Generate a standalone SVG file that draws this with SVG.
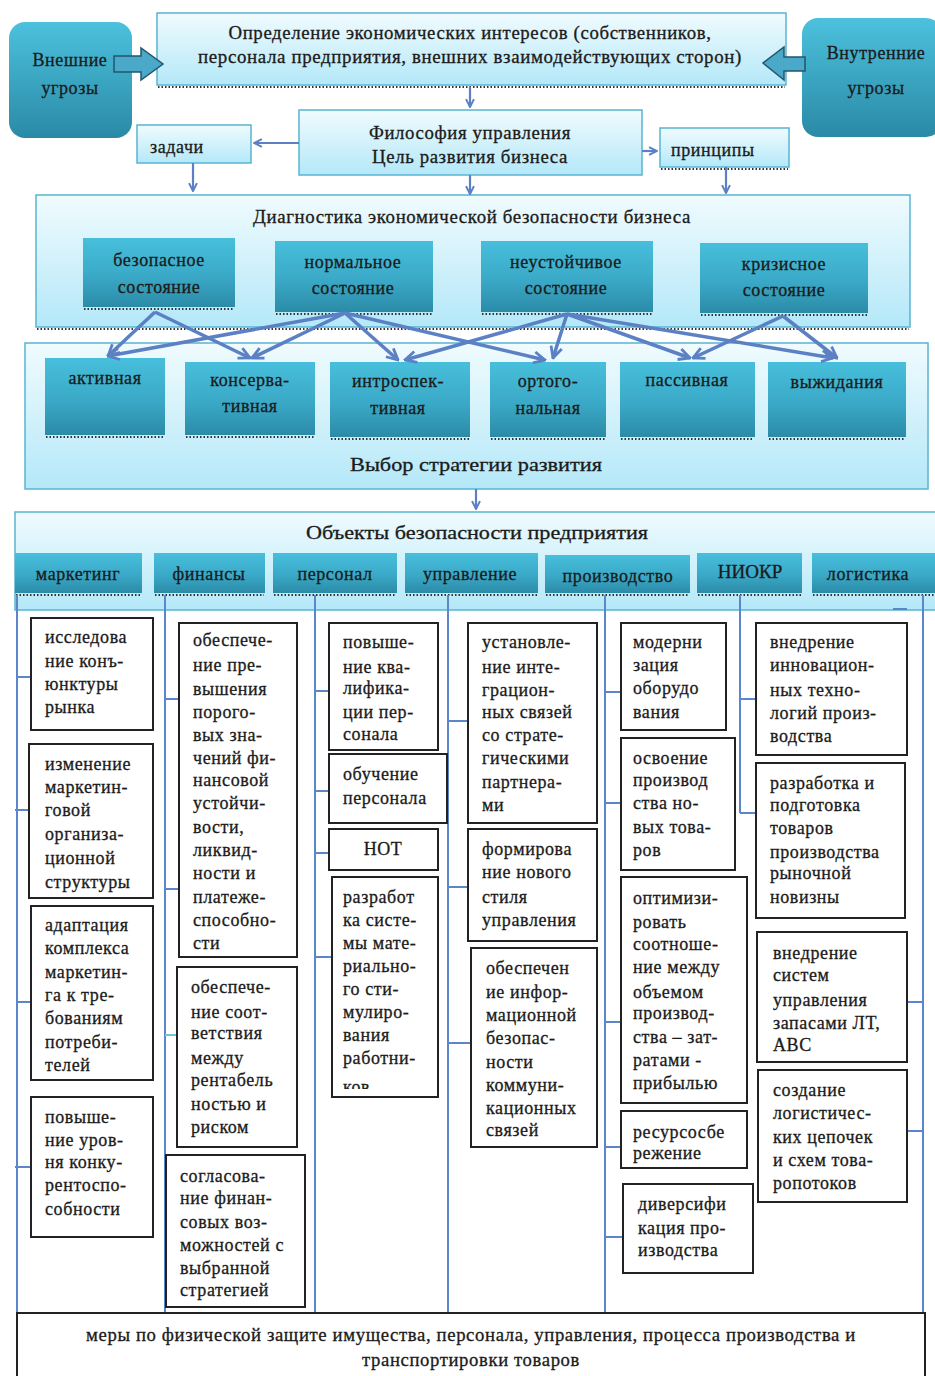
<svg xmlns="http://www.w3.org/2000/svg" width="935" height="1376" viewBox="0 0 935 1376">
<style>
.t{font-family:"Liberation Serif","Times New Roman",serif;font-size:18px;letter-spacing:0.6px;fill:#1b1b1b;stroke:#1b1b1b;stroke-width:0.3px}
.c{text-anchor:middle}
.h{font-size:19px;letter-spacing:0}
.box{fill:#fff;stroke:#222;stroke-width:2}
.teal{fill:url(#gTeal)}
.light{fill:url(#gLight);stroke:#5ab4d4;stroke-width:1.5}
.thr{fill:url(#gThr)}
.dot{stroke:#333;stroke-width:2;stroke-dasharray:1.5 2;fill:none}
.vl{stroke:#5b86c9;stroke-width:2;fill:none}
.arr{stroke:#5b80c3;stroke-width:2.2;fill:none;marker-end:url(#ah)}
.thick{stroke:#5b80c3;stroke-width:3.5;fill:none;marker-end:url(#ahT)}
.blk{fill:#4aa8c8;stroke:#23566e;stroke-width:1.5}
</style>
<defs>
<linearGradient id="gTeal" x1="0" y1="0" x2="0" y2="1"><stop offset="0" stop-color="#47bfdc"/><stop offset="0.55" stop-color="#3aa9c7"/><stop offset="1" stop-color="#2b8ba7"/></linearGradient>
<linearGradient id="gLight" x1="0" y1="0" x2="0" y2="1"><stop offset="0" stop-color="#f0fbfe"/><stop offset="1" stop-color="#b4e8f8"/></linearGradient>
<linearGradient id="gThr" x1="0" y1="0" x2="0" y2="1"><stop offset="0" stop-color="#4cc1dd"/><stop offset="1" stop-color="#2a8aa6"/></linearGradient>
<marker id="ah" viewBox="0 0 10 10" refX="9" refY="5" markerWidth="4.5" markerHeight="4.5" orient="auto" markerUnits="strokeWidth"><path d="M1,1 L9,5 L1,9" fill="none" stroke="#5b80c3" stroke-width="2"/></marker>
<marker id="ahT" viewBox="0 0 10 10" refX="9" refY="5" markerWidth="4" markerHeight="4" orient="auto" markerUnits="strokeWidth"><path d="M1,1 L9,5 L1,9" fill="none" stroke="#5b80c3" stroke-width="2"/></marker>
<clipPath id="cpK"><rect x="332" y="877" width="106" height="212"/></clipPath>
</defs>

<g id="top-main">
<rect class="light" x="157" y="13" width="629" height="72"/>
<line class="dot" x1="158" y1="87" x2="785" y2="87"/>
<text class="t c" x="470" y="39" textLength="483" lengthAdjust="spacingAndGlyphs">Определение экономических интересов (собственников,</text>
<text class="t c" x="470" y="63" textLength="544" lengthAdjust="spacingAndGlyphs">персонала предприятия, внешних взаимодействующих сторон)</text>
</g>
<g id="ext-threats">
<rect class="thr" x="9" y="22" width="123" height="116" rx="16"/>
<text class="t c" x="70" y="66">Внешние</text>
<text class="t c" x="70" y="94">угрозы</text>
</g>
<g id="int-threats">
<rect class="thr" x="802" y="18" width="140" height="119" rx="16"/>
<text class="t c" x="876" y="59">Внутренние</text>
<text class="t c" x="876" y="94">угрозы</text>
</g>
<g id="philosophy">
<rect class="light" x="299" y="110" width="343" height="65"/>
<text class="t c" x="470" y="139" textLength="202" lengthAdjust="spacingAndGlyphs">Философия управления</text>
<text class="t c" x="470" y="163" textLength="196" lengthAdjust="spacingAndGlyphs">Цель развития бизнеса</text>
</g>
<g id="tasks">
<rect class="light" x="137" y="125" width="114" height="38"/>
<text class="t" x="150" y="153">задачи</text>
</g>
<g id="principles">
<rect class="light" x="660" y="128" width="129" height="39"/>
<line class="dot" x1="661" y1="169" x2="788" y2="169"/>
<text class="t" x="671" y="156">принципы</text>
</g>

<g id="diagnostics">
<rect class="light" x="36" y="195" width="874" height="132"/>
<line class="dot" x1="37" y1="329" x2="909" y2="329"/>
<text class="t c" x="472" y="223" textLength="438" lengthAdjust="spacingAndGlyphs">Диагностика экономической безопасности бизнеса</text>
</g>
<g id="st-safe">
<rect class="teal" x="83" y="238" width="152" height="69"/>
<line class="dot" x1="84" y1="309" x2="234" y2="309"/>
<text class="t c" x="159" y="266">безопасное</text>
<text class="t c" x="159" y="293">состояние</text>
</g>
<g id="st-normal">
<rect class="teal" x="275" y="241" width="158" height="71"/>
<line class="dot" x1="276" y1="314" x2="432" y2="314"/>
<text class="t c" x="353" y="268">нормальное</text>
<text class="t c" x="353" y="294">состояние</text>
</g>
<g id="st-unstable">
<rect class="teal" x="481" y="241" width="172" height="71"/>
<line class="dot" x1="482" y1="314" x2="652" y2="314"/>
<text class="t c" x="566" y="268">неустойчивое</text>
<text class="t c" x="566" y="294">состояние</text>
</g>
<g id="st-crisis">
<rect class="teal" x="700" y="243" width="168" height="70"/>
<line class="dot" x1="701" y1="315" x2="867" y2="315"/>
<text class="t c" x="784" y="270">кризисное</text>
<text class="t c" x="784" y="296">состояние</text>
</g>

<g id="strategy">
<rect class="light" x="25" y="343" width="903" height="146"/>
<text class="t c h" x="476" y="471" textLength="252" lengthAdjust="spacingAndGlyphs">Выбор стратегии развития</text>
</g>
<g id="sg-active">
<rect class="teal" x="45" y="358" width="120" height="77"/>
<line class="dot" x1="46" y1="437" x2="164" y2="437"/>
<text class="t c" x="105" y="384">активная</text>
</g>
<g id="sg-conservative">
<rect class="teal" x="185" y="362" width="130" height="73"/>
<line class="dot" x1="186" y1="437" x2="314" y2="437"/>
<text class="t c" x="250" y="386">консерва-</text>
<text class="t c" x="250" y="412">тивная</text>
</g>
<g id="sg-introspective">
<rect class="teal" x="330" y="362" width="140" height="75"/>
<line class="dot" x1="331" y1="439" x2="469" y2="439"/>
<text class="t c" x="398" y="387">интроспек-</text>
<text class="t c" x="398" y="414">тивная</text>
</g>
<g id="sg-orthogonal">
<rect class="teal" x="490" y="362" width="116" height="75"/>
<line class="dot" x1="491" y1="439" x2="605" y2="439"/>
<text class="t c" x="548" y="387">ортого-</text>
<text class="t c" x="548" y="414">нальная</text>
</g>
<g id="sg-passive">
<rect class="teal" x="620" y="362" width="135" height="75"/>
<line class="dot" x1="621" y1="439" x2="754" y2="439"/>
<text class="t c" x="687" y="386">пассивная</text>
</g>
<g id="sg-waiting">
<rect class="teal" x="768" y="362" width="138" height="75"/>
<line class="dot" x1="769" y1="439" x2="905" y2="439"/>
<text class="t c" x="837" y="388">выжидания</text>
</g>

<g id="objects">
<rect class="light" x="15" y="512" width="925" height="98"/>
<text class="t c h" x="477" y="539" textLength="342" lengthAdjust="spacingAndGlyphs">Объекты безопасности предприятия</text>
</g>
<g id="tab-marketing"><rect class="teal" x="15" y="553" width="127" height="40"/><line class="dot" x1="16" y1="595" x2="141" y2="595"/><text class="t c" x="78" y="580">маркетинг</text></g>
<g id="tab-finance"><rect class="teal" x="154" y="553" width="111" height="40"/><line class="dot" x1="155" y1="595" x2="264" y2="595"/><text class="t c" x="209" y="580">финансы</text></g>
<g id="tab-personnel"><rect class="teal" x="273" y="553" width="124" height="40"/><line class="dot" x1="274" y1="595" x2="396" y2="595"/><text class="t c" x="335" y="580">персонал</text></g>
<g id="tab-management"><rect class="teal" x="405" y="553" width="133" height="40"/><line class="dot" x1="406" y1="595" x2="537" y2="595"/><text class="t c" x="470" y="580">управление</text></g>
<g id="tab-production"><rect class="teal" x="545" y="555" width="145" height="38"/><line class="dot" x1="546" y1="595" x2="689" y2="595"/><text class="t c" x="618" y="582">производство</text></g>
<g id="tab-niokr"><rect class="teal" x="697" y="553" width="105" height="40"/><line class="dot" x1="698" y1="595" x2="801" y2="595"/><text class="t c" x="750" y="578" style="font-size:19px;letter-spacing:0">НИОКР</text></g>
<g id="tab-logistics"><rect class="teal" x="812" y="553" width="128" height="40"/><line class="dot" x1="813" y1="595" x2="935" y2="595"/><text class="t c" x="868" y="580">логистика</text></g>

<g id="connectors">
<path class="blk" d="M114,56 L141,56 L141,48 L163,64 L141,80 L141,72 L114,72 Z"/>
<path class="blk" d="M805,57 L784,57 L784,47 L763,63 L784,80 L784,71 L805,71 Z"/>
<line class="arr" x1="470" y1="87" x2="470" y2="107"/>
<line class="arr" x1="299" y1="143" x2="254" y2="143"/>
<line class="arr" x1="642" y1="151" x2="657" y2="151"/>
<line class="arr" x1="193" y1="163" x2="193" y2="191"/>
<line class="arr" x1="470" y1="175" x2="470" y2="194"/>
<line class="arr" x1="726" y1="167" x2="726" y2="193"/>
<line class="arr" x1="476" y1="489" x2="476" y2="509"/>
<line class="thick" x1="155" y1="312" x2="108" y2="356"/>
<line class="thick" x1="155" y1="312" x2="250" y2="358"/>
<line class="thick" x1="345" y1="313" x2="108" y2="356"/>
<line class="thick" x1="345" y1="313" x2="252" y2="358"/>
<line class="thick" x1="345" y1="313" x2="398" y2="360"/>
<line class="thick" x1="345" y1="313" x2="545" y2="360"/>
<line class="thick" x1="567" y1="314" x2="405" y2="360"/>
<line class="thick" x1="567" y1="314" x2="553" y2="358"/>
<line class="thick" x1="567" y1="314" x2="690" y2="358"/>
<line class="thick" x1="567" y1="314" x2="833" y2="358"/>
<line class="thick" x1="783" y1="316" x2="693" y2="358"/>
<line class="thick" x1="783" y1="316" x2="837" y2="358"/>
<path class="vl" d="M17,595 V1313 M17,677 H31 M15,810 H29 M17,1002 H31 M15,1167 H31"/>
<path class="vl" d="M165,595 V1313 M165,699 H179 M165,889 H179"/>
<path d="M165,1035 H177" stroke="#6cc6dc" stroke-width="2"/>
<path class="vl" d="M315,595 V1313 M315,691 H329 M315,791 H329 M315,853 H329 M315,957 H332"/>
<path class="vl" d="M448,595 V1313 M448,721 H468 M448,887 H468 M448,1043 H471"/>
<path class="vl" d="M605,595 V1313 M605,692 H621 M605,803 H621 M605,1022 H621 M605,1147 H621 M605,1237 H623"/>
<path class="vl" d="M740,595 V813 M740,699 H756 M740,813 H756"/>
<path class="vl" d="M923,595 V1313 M907,1002 H923 M907,1131 H923 M893,609 H907"/>
</g>

<g id="m1"><rect class="box" x="31" y="618" width="122" height="112"/><text class="t"><tspan x="45" y="643">исследова</tspan><tspan x="45" y="667">ние конъ-</tspan><tspan x="45" y="690">юнктуры</tspan><tspan x="45" y="713">рынка</tspan></text></g>
<g id="m2"><rect class="box" x="29" y="744" width="124" height="154"/><text class="t"><tspan x="45" y="770">изменение</tspan><tspan x="45" y="793">маркетин-</tspan><tspan x="45" y="816">говой</tspan><tspan x="45" y="840">организа-</tspan><tspan x="45" y="864">ционной</tspan><tspan x="45" y="888">структуры</tspan></text></g>
<g id="m3"><rect class="box" x="31" y="906" width="122" height="174"/><text class="t"><tspan x="45" y="931">адаптация</tspan><tspan x="45" y="954">комплекса</tspan><tspan x="45" y="978">маркетин-</tspan><tspan x="45" y="1001">га к тре-</tspan><tspan x="45" y="1024">бованиям</tspan><tspan x="45" y="1048">потреби-</tspan><tspan x="45" y="1071">телей</tspan></text></g>
<g id="m4"><rect class="box" x="31" y="1097" width="122" height="140"/><text class="t"><tspan x="45" y="1123">повыше-</tspan><tspan x="45" y="1146">ние уров-</tspan><tspan x="45" y="1168">ня конку-</tspan><tspan x="45" y="1191">рентоспо-</tspan><tspan x="45" y="1215">собности</tspan></text></g>

<g id="f1"><rect class="box" x="179" y="623" width="118" height="334"/><text class="t"><tspan x="193" y="646">обеспече-</tspan><tspan x="193" y="671">ние пре-</tspan><tspan x="193" y="695">вышения</tspan><tspan x="193" y="718">порого-</tspan><tspan x="193" y="741">вых зна-</tspan><tspan x="193" y="764">чений фи-</tspan><tspan x="193" y="786">нансовой</tspan><tspan x="193" y="809">устойчи-</tspan><tspan x="193" y="833">вости,</tspan><tspan x="193" y="856">ликвид-</tspan><tspan x="193" y="879">ности и</tspan><tspan x="193" y="903">платеже-</tspan><tspan x="193" y="926">способно-</tspan><tspan x="193" y="949">сти</tspan></text></g>
<g id="f2"><rect class="box" x="177" y="967" width="120" height="180"/><text class="t"><tspan x="191" y="993">обеспече-</tspan><tspan x="191" y="1018">ние соот-</tspan><tspan x="191" y="1039">ветствия</tspan><tspan x="191" y="1064">между</tspan><tspan x="191" y="1086">рентабель</tspan><tspan x="191" y="1110">ностью и</tspan><tspan x="191" y="1133">риском</tspan></text></g>
<g id="f3"><rect class="box" x="166" y="1155" width="139" height="152"/><text class="t"><tspan x="180" y="1182">согласова-</tspan><tspan x="180" y="1204">ние финан-</tspan><tspan x="180" y="1228">совых воз-</tspan><tspan x="180" y="1251">можностей с</tspan><tspan x="180" y="1274">выбранной</tspan><tspan x="180" y="1296">стратегией</tspan></text></g>

<g id="p1"><rect class="box" x="329" y="623" width="109" height="127"/><text class="t"><tspan x="343" y="648">повыше-</tspan><tspan x="343" y="673">ние ква-</tspan><tspan x="343" y="694">лифика-</tspan><tspan x="343" y="718">ции пер-</tspan><tspan x="343" y="740">сонала</tspan></text></g>
<g id="p2"><rect class="box" x="329" y="754" width="118" height="69"/><text class="t"><tspan x="343" y="780">обучение</tspan><tspan x="343" y="804">персонала</tspan></text></g>
<g id="p3"><rect class="box" x="329" y="829" width="109" height="41"/><text class="t c" x="383" y="855" style="font-size:18px;letter-spacing:0.5px">НОТ</text></g>
<g id="p4"><rect class="box" x="332" y="877" width="106" height="220"/><text class="t" clip-path="url(#cpK)"><tspan x="343" y="903">разработ</tspan><tspan x="343" y="926">ка систе-</tspan><tspan x="343" y="949">мы мате-</tspan><tspan x="343" y="972">риально-</tspan><tspan x="343" y="995">го сти-</tspan><tspan x="343" y="1018">мулиро-</tspan><tspan x="343" y="1041">вания</tspan><tspan x="343" y="1064">работни-</tspan><tspan x="343" y="1093">ков</tspan></text></g>

<g id="u1"><rect class="box" x="468" y="623" width="129" height="200"/><text class="t"><tspan x="482" y="648">установле-</tspan><tspan x="482" y="673">ние инте-</tspan><tspan x="482" y="696">грацион-</tspan><tspan x="482" y="718">ных связей</tspan><tspan x="482" y="741">со страте-</tspan><tspan x="482" y="764">гическими</tspan><tspan x="482" y="788">партнера-</tspan><tspan x="482" y="811">ми</tspan></text></g>
<g id="u2"><rect class="box" x="468" y="829" width="129" height="112"/><text class="t"><tspan x="482" y="855">формирова</tspan><tspan x="482" y="878">ние нового</tspan><tspan x="482" y="903">стиля</tspan><tspan x="482" y="926">управления</tspan></text></g>
<g id="u3"><rect class="box" x="471" y="948" width="126" height="199"/><text class="t"><tspan x="486" y="974">обеспечен</tspan><tspan x="486" y="998">ие инфор-</tspan><tspan x="486" y="1021">мационной</tspan><tspan x="486" y="1044">безопас-</tspan><tspan x="486" y="1068">ности</tspan><tspan x="486" y="1091">коммуни-</tspan><tspan x="486" y="1114">кационных</tspan><tspan x="486" y="1136">связей</tspan></text></g>

<g id="pr1"><rect class="box" x="621" y="623" width="105" height="107"/><text class="t"><tspan x="633" y="648">модерни</tspan><tspan x="633" y="671">зация</tspan><tspan x="633" y="694">оборудо</tspan><tspan x="633" y="718">вания</tspan></text></g>
<g id="pr2"><rect class="box" x="621" y="738" width="114" height="132"/><text class="t"><tspan x="633" y="764">освоение</tspan><tspan x="633" y="786">производ</tspan><tspan x="633" y="809">ства но-</tspan><tspan x="633" y="833">вых това-</tspan><tspan x="633" y="856">ров</tspan></text></g>
<g id="pr3"><rect class="box" x="621" y="877" width="126" height="226"/><text class="t"><tspan x="633" y="904">оптимизи-</tspan><tspan x="633" y="928">ровать</tspan><tspan x="633" y="950">соотноше-</tspan><tspan x="633" y="973">ние между</tspan><tspan x="633" y="998">объемом</tspan><tspan x="633" y="1019">производ-</tspan><tspan x="633" y="1043">ства – зат-</tspan><tspan x="633" y="1066">ратами -</tspan><tspan x="633" y="1089">прибылью</tspan></text></g>
<g id="pr4"><rect class="box" x="621" y="1111" width="126" height="57"/><text class="t"><tspan x="633" y="1138">ресурсосбе</tspan><tspan x="633" y="1159">режение</tspan></text></g>
<g id="pr5"><rect class="box" x="623" y="1184" width="130" height="89"/><text class="t"><tspan x="638" y="1210">диверсифи</tspan><tspan x="638" y="1234">кация про-</tspan><tspan x="638" y="1256">изводства</tspan></text></g>

<g id="n1"><rect class="box" x="756" y="623" width="151" height="132"/><text class="t"><tspan x="770" y="648">внедрение</tspan><tspan x="770" y="671">инновацион-</tspan><tspan x="770" y="696">ных техно-</tspan><tspan x="770" y="719">логий произ-</tspan><tspan x="770" y="742">водства</tspan></text></g>
<g id="n2"><rect class="box" x="756" y="763" width="149" height="155"/><text class="t"><tspan x="770" y="789">разработка и</tspan><tspan x="770" y="811">подготовка</tspan><tspan x="770" y="834">товаров</tspan><tspan x="770" y="858">производства</tspan><tspan x="770" y="879">рыночной</tspan><tspan x="770" y="903">новизны</tspan></text></g>

<g id="l1"><rect class="box" x="757" y="932" width="150" height="130"/><text class="t"><tspan x="773" y="959">внедрение</tspan><tspan x="773" y="981">систем</tspan><tspan x="773" y="1006">управления</tspan><tspan x="773" y="1029">запасами ЛТ,</tspan><tspan x="773" y="1051">АВС</tspan></text></g>
<g id="l2"><rect class="box" x="758" y="1070" width="149" height="132"/><text class="t"><tspan x="773" y="1096">создание</tspan><tspan x="773" y="1119">логистичес-</tspan><tspan x="773" y="1143">ких цепочек</tspan><tspan x="773" y="1166">и схем това-</tspan><tspan x="773" y="1189">ропотоков</tspan></text></g>

<g id="bottom">
<rect class="box" x="17" y="1313" width="908" height="75"/>
<text class="t c" x="471" y="1341" textLength="770" lengthAdjust="spacingAndGlyphs">меры по физической защите имущества, персонала, управления, процесса производства и</text>
<text class="t c" x="471" y="1366" textLength="218" lengthAdjust="spacingAndGlyphs">транспортировки товаров</text>
</g>
</svg>
